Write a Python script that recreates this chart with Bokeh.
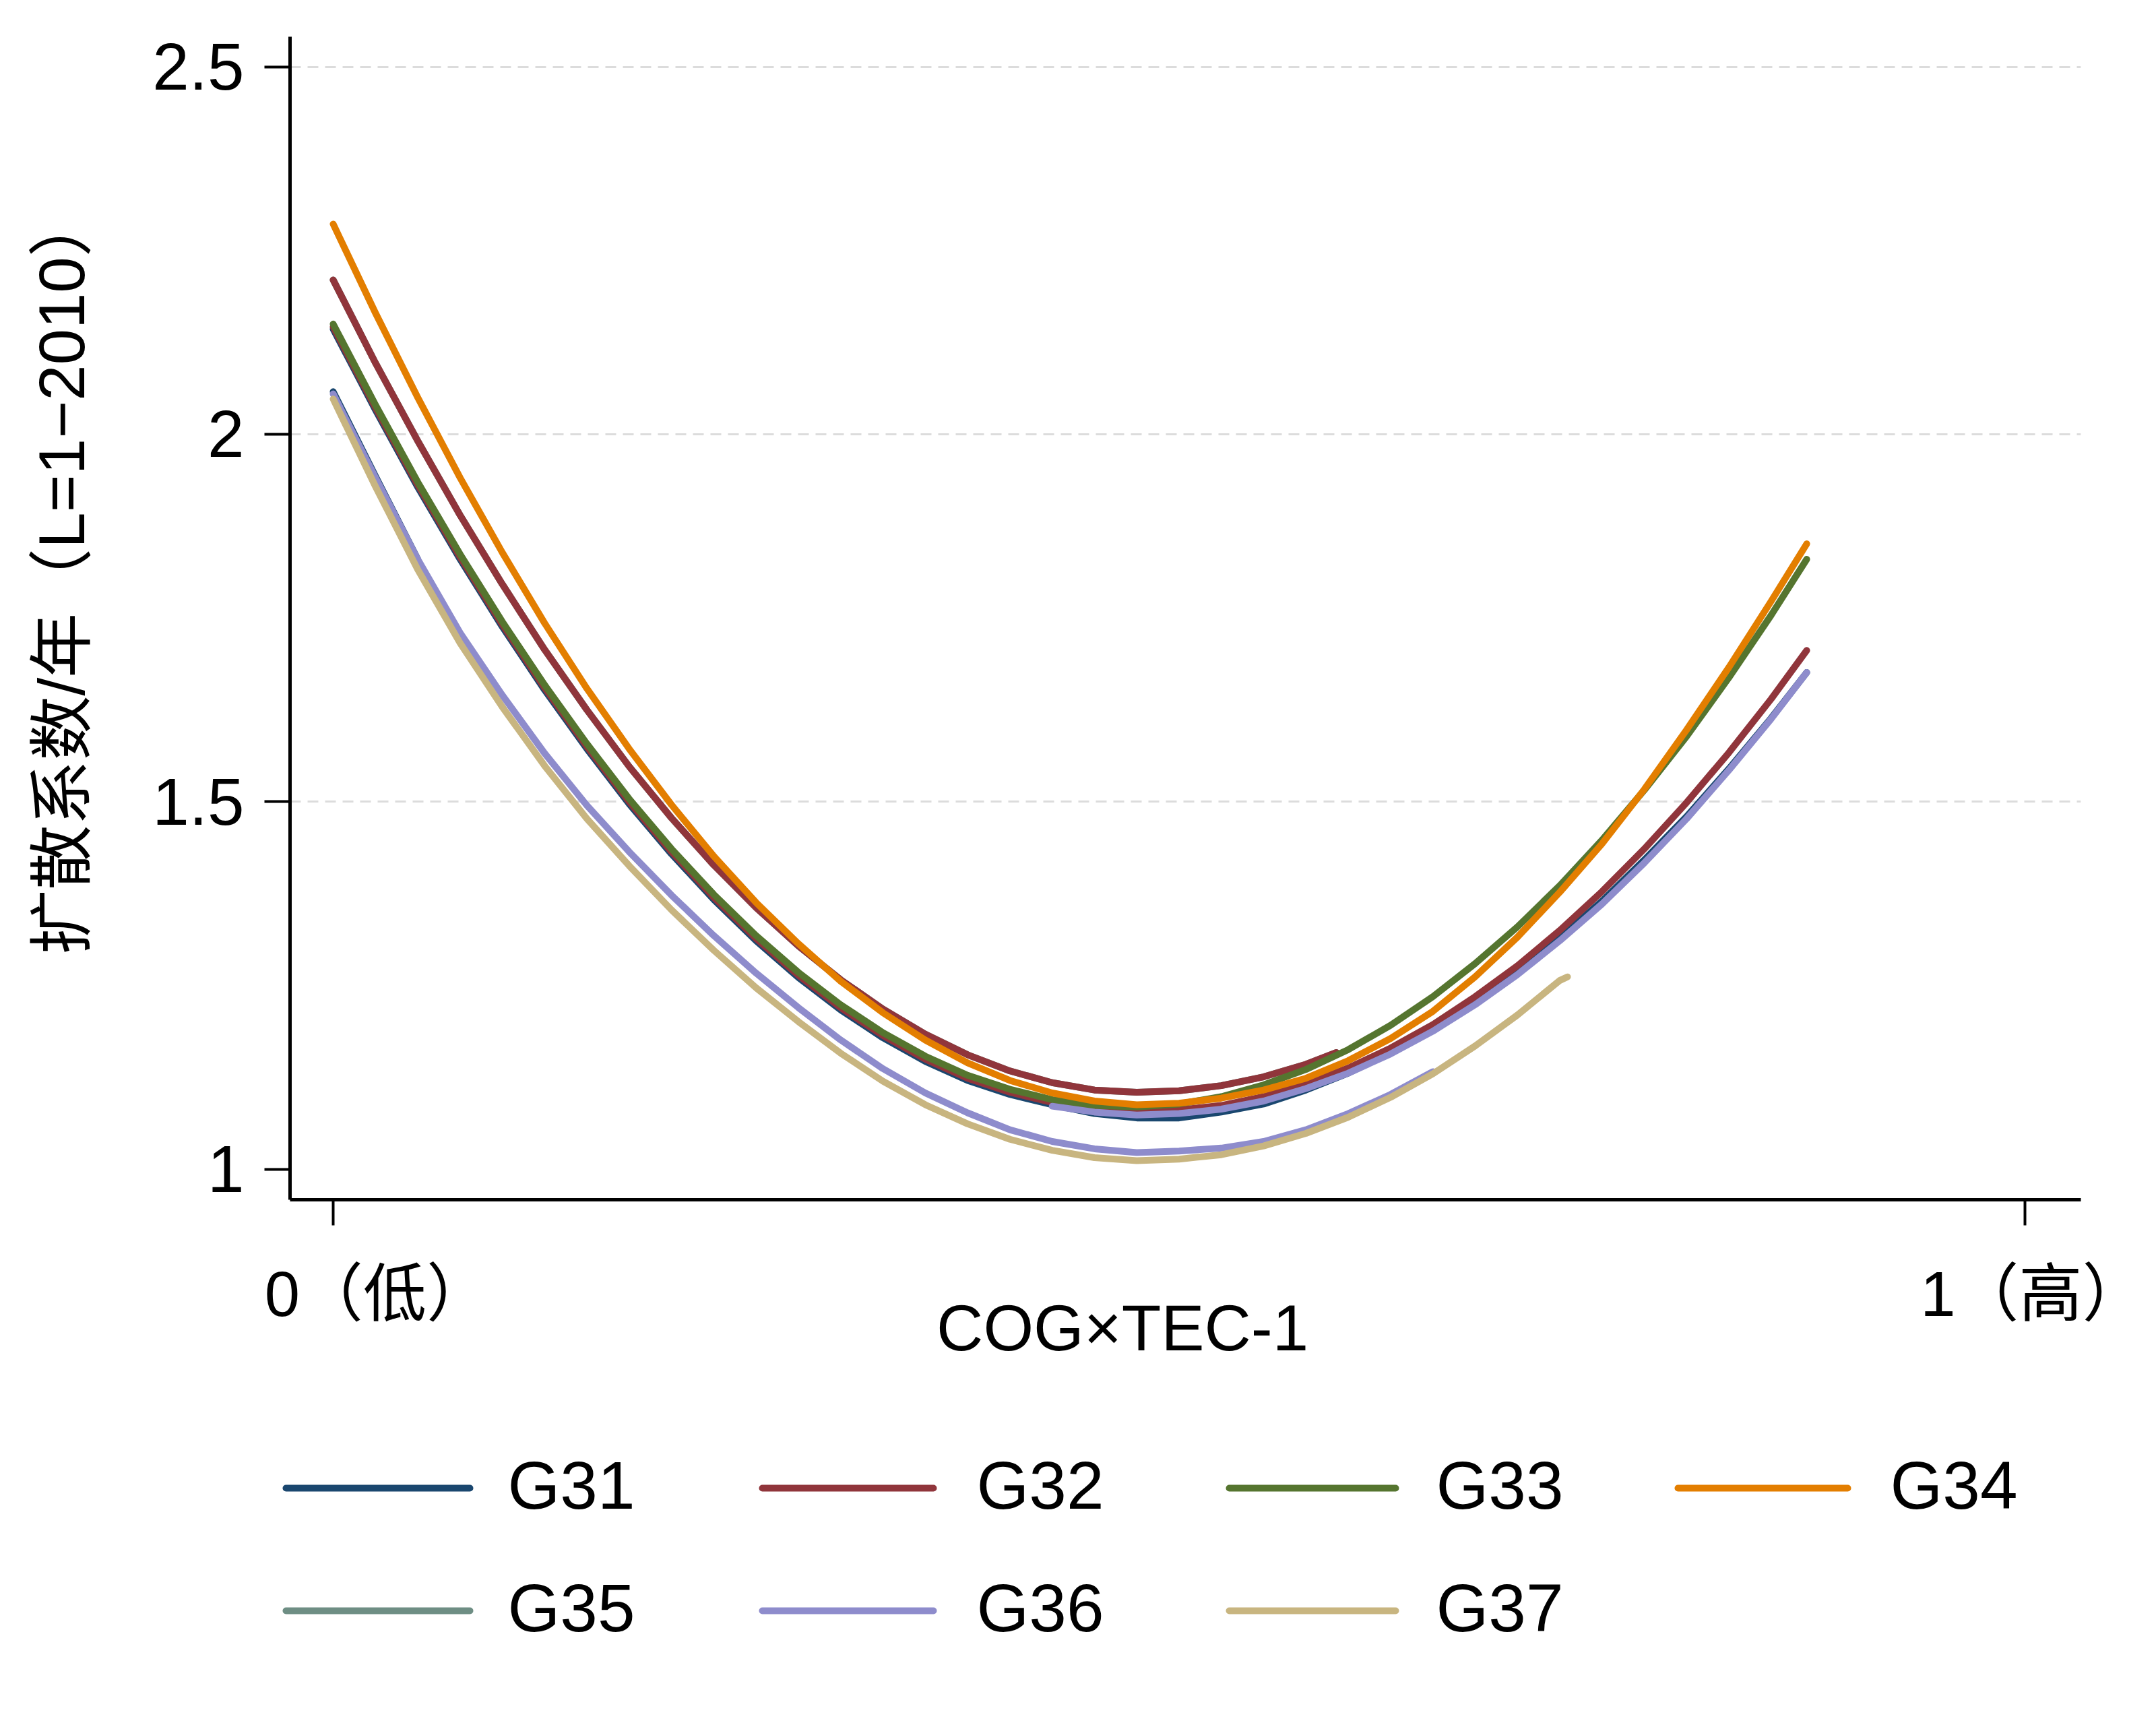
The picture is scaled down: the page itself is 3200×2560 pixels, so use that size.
from bokeh.plotting import figure
from bokeh.layouts import column
from bokeh.models import Range1d, FixedTicker
from bokeh.core.properties import value
from bokeh.embed import file_html
from bokeh.resources import INLINE

# ---------------- data ----------------
x_full = [0.000, 0.025, 0.050, 0.075, 0.100, 0.125, 0.150, 0.175, 0.200, 0.225,
          0.250, 0.275, 0.300, 0.325, 0.350, 0.375, 0.400, 0.425, 0.450, 0.475,
          0.500, 0.525, 0.550, 0.575, 0.600, 0.625, 0.650, 0.675, 0.700, 0.725,
          0.750, 0.775, 0.800, 0.825, 0.850, 0.871]

# G31 (navy): long curve (under G33 on the left) + short piece at the G36 start
g31_a_x = x_full
g31_a_y = [2.143, 2.033, 1.928, 1.830, 1.738, 1.652, 1.572, 1.497, 1.429, 1.367,
           1.311, 1.261, 1.217, 1.179, 1.147, 1.121, 1.102, 1.088, 1.076, 1.070,
           1.070, 1.078, 1.089, 1.108, 1.131, 1.159, 1.191, 1.228, 1.269, 1.315,
           1.365, 1.421, 1.480, 1.545, 1.614, 1.676]
g31_b_x = x_full[:3]
g31_b_y = [2.058, 1.943, 1.830]

# G32 (maroon): short upper curve + long curve
g32_a_x = x_full[:24] + [0.593]
g32_a_y = [2.210, 2.097, 1.991, 1.890, 1.796, 1.707, 1.625, 1.548, 1.478, 1.414,
           1.356, 1.304, 1.258, 1.218, 1.184, 1.156, 1.134, 1.118, 1.108, 1.105,
           1.107, 1.114, 1.126, 1.143, 1.159]
g32_b_x = x_full
g32_b_y = [2.146, 2.036, 1.931, 1.833, 1.741, 1.655, 1.575, 1.500, 1.432, 1.370,
           1.314, 1.264, 1.220, 1.182, 1.150, 1.124, 1.105, 1.091, 1.083, 1.079,
           1.081, 1.087, 1.099, 1.116, 1.138, 1.165, 1.197, 1.235, 1.277, 1.325,
           1.378, 1.436, 1.499, 1.567, 1.640, 1.706]

# G33 (green)
g33_x = x_full
g33_y = [2.150, 2.040, 1.935, 1.837, 1.745, 1.659, 1.579, 1.504, 1.436, 1.374,
         1.318, 1.268, 1.224, 1.186, 1.154, 1.128, 1.109, 1.095, 1.087, 1.085,
         1.089, 1.099, 1.115, 1.136, 1.163, 1.196, 1.235, 1.280, 1.330, 1.386,
         1.448, 1.516, 1.589, 1.669, 1.754, 1.830]

# G34 (orange)
g34_x = x_full
g34_y = [2.286, 2.165, 2.050, 1.941, 1.839, 1.743, 1.654, 1.572, 1.496, 1.426,
         1.363, 1.307, 1.256, 1.213, 1.176, 1.145, 1.121, 1.104, 1.093, 1.088,
         1.090, 1.097, 1.108, 1.124, 1.148, 1.178, 1.215, 1.262, 1.316, 1.377,
         1.443, 1.517, 1.598, 1.683, 1.773, 1.851]

# G35 (teal): lies under the upper G32 curve
g35_x = g32_a_x
g35_y = [2.210, 2.097, 1.991, 1.890, 1.796, 1.707, 1.625, 1.548, 1.478, 1.414,
         1.356, 1.304, 1.258, 1.218, 1.184, 1.156, 1.134, 1.118, 1.108, 1.105,
         1.107, 1.114, 1.126, 1.143, 1.159]

# G36 (lavender): lower curve + upper right-hand curve
g36_a_x = x_full[:27]
g36_a_y = [2.055, 1.941, 1.830, 1.730, 1.645, 1.566, 1.495, 1.432, 1.373, 1.318,
           1.267, 1.220, 1.176, 1.137, 1.104, 1.077, 1.054, 1.038, 1.028, 1.023,
           1.025, 1.029, 1.038, 1.054, 1.076, 1.102, 1.133]
g36_b_x = x_full[17:]
g36_b_y = [1.086, 1.078, 1.074, 1.076, 1.082, 1.093, 1.110, 1.131, 1.157, 1.188,
           1.224, 1.265, 1.311, 1.361, 1.417, 1.477, 1.543, 1.613, 1.676]

# G37 (khaki)
g37_x = x_full[:30] + [0.7296]
g37_y = [2.048, 1.929, 1.816, 1.716, 1.629, 1.549, 1.477, 1.413, 1.353, 1.298,
         1.247, 1.201, 1.158, 1.120, 1.088, 1.062, 1.041, 1.026, 1.016, 1.012,
         1.014, 1.020, 1.032, 1.049, 1.071, 1.098, 1.130, 1.168, 1.210, 1.257, 1.262]

series_names = ["G31", "G32", "G33", "G34", "G35", "G36", "G37"]
colors = {"G31": "#1a476f", "G32": "#90353b", "G33": "#55752f", "G34": "#e37e00",
          "G35": "#6e8e84", "G36": "#8e8ccc", "G37": "#c8b580"}

y_ticks = [1, 1.5, 2, 2.5]
y_tick_labels = ["1", "1.5", "2", "2.5"]
y_grid = [1.5, 2, 2.5]
x_ticks = [0, 1]
x_tick_labels = ["0（低）", "1（高）"]
x_title = "COG×TEC-1"
y_title = "扩散系数/年（L=1−2010）"

# ---------------- main figure ----------------
LAT = "Liberation Sans"
MIX = "Liberation Sans, Noto Sans CJK SC"
NB = "\u00a0"
W = 3184
H1 = 2110
H2 = 2544 - H1

p = figure(width=W, height=H1, output_backend="svg", toolbar_location=None,
           x_range=Range1d(-0.02549, 1.03305), y_range=Range1d(0.95875, 2.54079),
           min_border_left=430, min_border_right=96, min_border_top=54,
           min_border_bottom=H1 - 1780)
p.outline_line_color = None
p.background_fill_color = "white"
p.border_fill_color = "white"

for ax in (p.xaxis[0], p.yaxis[0]):
    ax.axis_line_width = 5
    ax.axis_line_color = "black"
    ax.major_tick_line_width = 4
    ax.major_tick_line_color = "black"
    ax.major_tick_out = 38
    ax.major_tick_in = 0
    ax.minor_tick_line_color = None
    ax.major_label_text_color = "black"
    ax.axis_label_text_font_style = "normal"
    ax.axis_label_text_color = "black"

p.yaxis.ticker = FixedTicker(ticks=y_ticks)
p.yaxis.major_label_overrides = dict(zip(y_ticks, y_tick_labels))
p.yaxis.major_label_text_font = LAT
p.yaxis.major_label_text_font_size = "98px"
p.yaxis.major_label_standoff = 30
p.yaxis.axis_label = NB * 5 + y_title
p.yaxis.axis_label_text_font = MIX
p.yaxis.axis_label_text_font_size = "96px"
p.yaxis.axis_label_standoff = 78

p.xaxis.ticker = FixedTicker(ticks=x_ticks)
p.xaxis.major_label_overrides = {0: NB * 5 + x_tick_labels[0], 1: NB * 6 + x_tick_labels[1]}
p.xaxis.major_label_text_font = MIX
p.xaxis.major_label_text_font_size = "94px"
p.xaxis.major_label_standoff = 49
p.xaxis.axis_label = x_title + NB * 7
p.xaxis.axis_label_text_font = LAT
p.xaxis.axis_label_text_font_size = "96px"
p.xaxis.axis_label_standoff = -59

p.xgrid.visible = False
p.ygrid.ticker = FixedTicker(ticks=y_grid)
p.ygrid.grid_line_color = "#dcdcdc"
p.ygrid.grid_line_width = 3
p.ygrid.grid_line_dash = "16 10"

LW = 10
def draw(xs, ys, name):
    return p.line(xs, ys, line_color=colors[name], line_width=LW,
                  line_cap="round", line_join="round")

draw(g35_x, g35_y, "G35")
draw(g31_a_x, g31_a_y, "G31")
draw(g31_b_x, g31_b_y, "G31")
draw(g32_a_x, g32_a_y, "G32")
draw(g32_b_x, g32_b_y, "G32")
draw(g33_x, g33_y, "G33")
draw(g34_x, g34_y, "G34")
draw(g36_a_x, g36_a_y, "G36")
draw(g36_b_x, g36_b_y, "G36")
draw(g37_x, g37_y, "G37")

# ---------------- legend panel (pixel coordinates, y downwards) ----------------
q = figure(width=W, height=H2, output_backend="svg", toolbar_location=None,
           x_range=Range1d(0, W), y_range=Range1d(H2, 0),
           x_axis_type=None, y_axis_type=None,
           min_border_left=0, min_border_right=0, min_border_top=0, min_border_bottom=0)
try:
    p.frame_align = False
    q.frame_align = False
except AttributeError:
    q.x_range = Range1d(430, 3088)
q.outline_line_color = None
q.xgrid.visible = False
q.ygrid.visible = False
q.background_fill_color = "white"
q.border_fill_color = "white"

top = H1 + 8                      # page y of this panel's top
col_line = [(427, 710), (1134, 1398), (1827, 2084), (2493, 2755)]
col_text = [766, 1462, 2144, 2818]
row_line = [2216, 2398]
row_base = [2211, 2393]

x0s, x1s, ys, lcols, tx, ty, tt = [], [], [], [], [], [], []
for i, name in enumerate(series_names):
    r, c = divmod(i, 4)
    a, b = col_line[c]
    x0s.append(a + 5 - 8)
    x1s.append(b - 5 - 8)
    ys.append(row_line[r] - top)
    lcols.append(colors[name])
    tx.append(col_text[c] - 5 - 8)
    ty.append(row_base[r] - top)
    tt.append(name)

q.segment(x0=x0s, y0=ys, x1=x1s, y1=ys, line_color=lcols, line_width=LW, line_cap="round")
q.text(x=tx, y=ty, text=tt, text_font=value(LAT), text_font_size=value("100px"),
       text_align="left", text_baseline="alphabetic", text_color="black")

layout = column(p, q, spacing=0)
open("out.html", "w").write(file_html(layout, INLINE))
